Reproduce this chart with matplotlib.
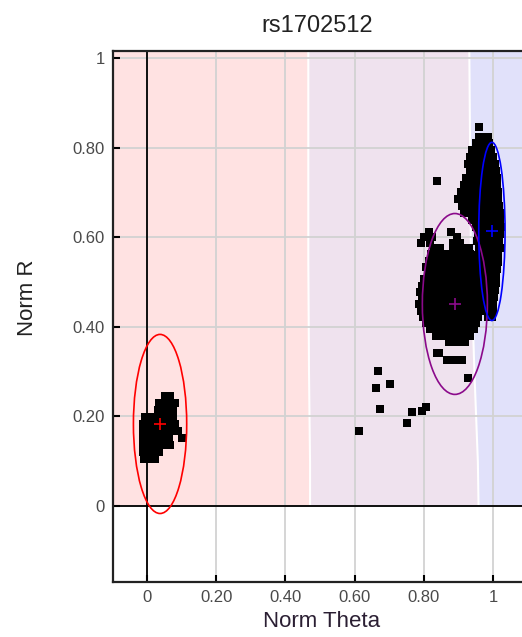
import matplotlib
matplotlib.use('Agg')
import matplotlib.pyplot as plt
from matplotlib.patches import Ellipse

plt.rcParams['font.family'] = ['Liberation Sans', 'DejaVu Sans']

# cluster AA (red), samples
aa_rows_y = [0.246, 0.230, 0.214, 0.199, 0.183, 0.167, 0.152, 0.136, 0.121, 0.105]
aa_rows_x = [
    [0.052, 0.066],
    [0.036, 0.052, 0.068, 0.080],
    [0.032, 0.046, 0.062, 0.076],
    [-0.005, 0.012, 0.030, 0.045, 0.060, 0.075],
    [-0.010, 0.005, 0.020, 0.035, 0.050, 0.066, 0.082],
    [-0.010, 0.006, 0.022, 0.038, 0.054, 0.070, 0.090],
    [-0.010, 0.005, 0.020, 0.035, 0.050, 0.064, 0.101],
    [-0.010, 0.006, 0.022, 0.038, 0.054, 0.068],
    [-0.010, 0.005, 0.020, 0.035],
    [-0.008, 0.008, 0.022],
]

# cluster AB (purple)
ab_rows_y = [0.612, 0.600, 0.588, 0.575, 0.562, 0.548, 0.534, 0.520, 0.506, 0.492,
             0.478, 0.464, 0.450, 0.436, 0.422, 0.408, 0.394, 0.380, 0.366, 0.341,
             0.326, 0.286]
ab_rows_x = [
    [0.815, 0.880],
    [0.800, 0.825, 0.895],
    [0.792, 0.818, 0.886, 0.905],
    [0.830, 0.846, 0.884, 0.900, 0.916, 0.930],
    [0.822, 0.838, 0.854, 0.870, 0.886, 0.902, 0.918, 0.934],
    [0.815, 0.831, 0.847, 0.863, 0.879, 0.895, 0.911, 0.927, 0.940],
    [0.808, 0.824, 0.840, 0.856, 0.872, 0.888, 0.904, 0.920, 0.936, 0.944],
    [0.812, 0.828, 0.844, 0.860, 0.876, 0.892, 0.908, 0.924, 0.940],
    [0.802, 0.818, 0.834, 0.850, 0.866, 0.882, 0.898, 0.914, 0.930, 0.946],
    [0.796, 0.812, 0.828, 0.844, 0.860, 0.876, 0.892, 0.908, 0.924, 0.940],
    [0.790, 0.806, 0.822, 0.838, 0.854, 0.870, 0.886, 0.902, 0.918, 0.934, 0.946],
    [0.795, 0.811, 0.827, 0.843, 0.859, 0.875, 0.891, 0.907, 0.923, 0.939],
    [0.786, 0.802, 0.818, 0.834, 0.850, 0.866, 0.882, 0.898, 0.914, 0.930, 0.946, 0.952],
    [0.792, 0.808, 0.824, 0.840, 0.856, 0.872, 0.888, 0.904, 0.920, 0.936, 0.952],
    [0.798, 0.814, 0.830, 0.846, 0.862, 0.878, 0.894, 0.910, 0.926, 0.942, 0.958],
    [0.806, 0.822, 0.838, 0.854, 0.870, 0.886, 0.902, 0.918, 0.934, 0.950],
    [0.818, 0.834, 0.850, 0.866, 0.882, 0.898, 0.914, 0.930, 0.944],
    [0.835, 0.851, 0.867, 0.883, 0.899, 0.915, 0.935],
    [0.872, 0.890, 0.906, 0.920],
    [0.838, 0.845],
    [0.867, 0.882, 0.896, 0.910],
    [0.928],
]

# cluster BB (blue)
bb_rows_y = [0.846, 0.824, 0.810, 0.795, 0.779, 0.763, 0.748, 0.732, 0.717, 0.701,
             0.685, 0.670, 0.654, 0.638, 0.623, 0.607, 0.592, 0.576, 0.560, 0.545,
             0.529, 0.513, 0.498, 0.482, 0.467, 0.451, 0.435, 0.422]
bb_rows_x = [
    [0.960],
    [0.960, 0.975, 0.985],
    [0.950, 0.965, 0.980, 0.990],
    [0.940, 0.955, 0.970, 0.985, 0.995],
    [0.935, 0.952, 0.968, 0.984, 1.000],
    [0.928, 0.945, 0.962, 0.978, 0.994, 1.005],
    [0.935, 0.950, 0.966, 0.982, 0.998, 1.010],
    [0.922, 0.940, 0.956, 0.972, 0.988, 1.004, 1.012],
    [0.915, 0.932, 0.948, 0.964, 0.980, 0.996, 1.012],
    [0.908, 0.925, 0.942, 0.958, 0.974, 0.990, 1.006, 1.016],
    [0.900, 0.916, 0.934, 0.950, 0.966, 0.982, 0.998, 1.014],
    [0.910, 0.928, 0.944, 0.960, 0.976, 0.992, 1.008, 1.018],
    [0.915, 0.933, 0.950, 0.966, 0.982, 0.998, 1.014, 1.020],
    [0.940, 0.956, 0.972, 0.988, 1.004, 1.020],
    [0.952, 0.968, 0.984, 1.000, 1.016, 1.022],
    [0.958, 0.974, 0.990, 1.006, 1.020],
    [0.955, 0.970, 0.986, 1.002, 1.018],
    [0.960, 0.976, 0.992, 1.008, 1.020],
    [0.956, 0.972, 0.988, 1.004, 1.016],
    [0.960, 0.976, 0.992, 1.008, 1.015],
    [0.956, 0.972, 0.988, 1.004, 1.012],
    [0.960, 0.976, 0.992, 1.008],
    [0.958, 0.974, 0.990, 1.006, 1.010],
    [0.962, 0.978, 0.994, 1.006],
    [0.964, 0.980, 0.996, 1.004],
    [0.968, 0.984, 1.000],
    [0.975, 0.990, 1.000],
    [0.985, 0.997],
]

# loose samples between the clusters
loose_x = [0.668, 0.662, 0.702, 0.673, 0.613, 0.751, 0.766, 0.795, 0.806, 0.838]
loose_y = [0.301, 0.263, 0.272, 0.217, 0.167, 0.185, 0.210, 0.212, 0.221, 0.725]

# cluster ellipses: centre x, centre y, width, height
ell_cx = [0.038, 0.890, 0.997]
ell_cy = [0.183, 0.451, 0.613]
ell_w = [0.154, 0.188, 0.076]
ell_h = [0.400, 0.404, 0.398]
ell_col = ['#ff0000', '#8b0a8b', '#0000ff']

# call-region borders
region_y = [0.0, 0.10, 0.30, 0.55, 1.05]
border_aa_ab = [0.470, 0.470, 0.467, 0.465, 0.465]
border_ab_bb = [0.957, 0.955, 0.945, 0.935, 0.930]

ticks = [0, 0.2, 0.4, 0.6, 0.8, 1]
tick_labels = ['0', '0.20', '0.40', '0.60', '0.80', '1']


def flatten(rows_y, rows_x):
    xs, ys = [], []
    for y, row in zip(rows_y, rows_x):
        for x in row:
            xs.append(x)
            ys.append(y)
    return xs, ys


fig = plt.figure(figsize=(5.22, 6.37), dpi=100)
ax = fig.add_axes([113 / 522, 1 - 582 / 637, 409 / 522, 531 / 637])
ax.set_xlim(-0.098, 1.084)
ax.set_ylim(-0.17, 1.016)

gap = 0.003
ax.fill_betweenx(region_y, -0.2, [b - gap for b in border_aa_ab], color='#ffe2e2', lw=0, zorder=0.2)
ax.fill_betweenx(region_y, [b + gap for b in border_aa_ab], [b - gap for b in border_ab_bb],
                 color='#efe2ee', lw=0, zorder=0.2)
ax.fill_betweenx(region_y, [b + gap for b in border_ab_bb], 1.2, color='#e1e1fa', lw=0, zorder=0.2)

ax.set_axisbelow(True)
ax.grid(True, color='#d2d2d2', lw=1.3)
ax.axhline(0, color='black', lw=1.3, zorder=1.5)
ax.axvline(0, color='black', lw=1.3, zorder=1.5)

for rows_y, rows_x in [(aa_rows_y, aa_rows_x), (ab_rows_y, ab_rows_x), (bb_rows_y, bb_rows_x)]:
    xs, ys = flatten(rows_y, rows_x)
    ax.scatter(xs, ys, marker='s', s=26, color='black', linewidths=0, zorder=3)
ax.scatter(loose_x, loose_y, marker='s', s=26, color='black', linewidths=0, zorder=3)

for cx, cy, w, h, c in zip(ell_cx, ell_cy, ell_w, ell_h, ell_col):
    ax.add_patch(Ellipse((cx, cy), w, h, fill=False, ec=c, lw=1.2, zorder=4))
    ax.plot(cx, cy, marker='+', color=c, ms=8, mew=1.2, zorder=5)

ax.set_xticks(ticks)
ax.set_xticklabels(tick_labels)
ax.set_yticks(ticks)
ax.set_yticklabels(tick_labels)
ax.tick_params(direction='in', length=5, width=1.5, color='black',
               labelsize=12, labelcolor='#4a4a4a', pad=6)

for side in ['left', 'bottom', 'top']:
    ax.spines[side].set_color('#222222')
    ax.spines[side].set_linewidth(1.6)
ax.spines['right'].set_visible(False)

ax.set_title('rs1702512', fontsize=17, pad=14, color='#222222')
ax.set_xlabel('Norm Theta', fontsize=16, color='#2b1f33', va='center')
ax.xaxis.set_label_coords(0.509, -0.075)
ax.set_ylabel('Norm R', fontsize=16, color='#222222', va='center')
ax.yaxis.set_label_coords(-0.209, 0.535)

fig.savefig('out.png', dpi=100)
